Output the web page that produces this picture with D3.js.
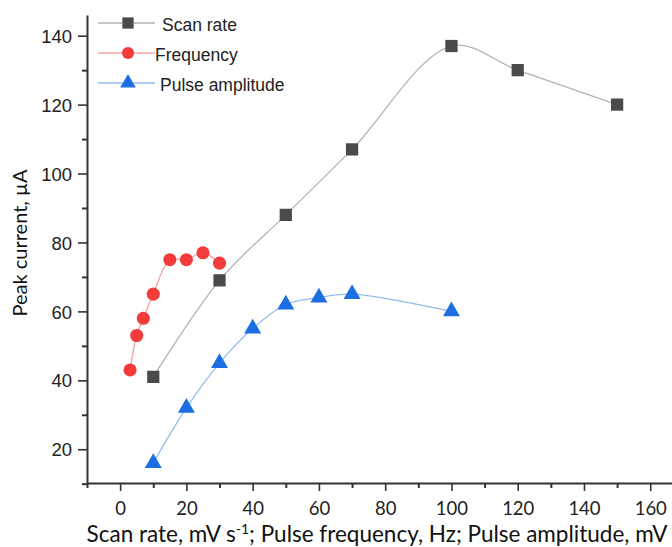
<!DOCTYPE html>
<html>
<head>
<meta charset="utf-8">
<script src="https://cdn.jsdelivr.net/npm/d3@7"></script>
<style>
  body { margin: 0; background: #fff; }
  svg { display: block; }
  .axis path, .axis line { stroke: #333; }
</style>
</head>
<body>
<script>
const scanX = [10, 30, 50, 70, 100, 120, 150];
const scanY = [41, 69, 88, 107, 137, 130, 120];
const freqX = [3, 5, 7, 10, 15, 20, 25, 30];
const freqY = [43, 53, 58, 65, 75, 75, 77, 74];
const ampX = [10, 20, 30, 40, 50, 60, 70, 100];
const ampY = [16, 32, 45, 55, 62, 64, 65, 60];
const seriesNames = ['Scan rate', 'Frequency', 'Pulse amplitude'];
const xTicks = [0, 20, 40, 60, 80, 100, 120, 140, 160];
const yTicks = [20, 40, 60, 80, 100, 120, 140];

const W = 672, H = 547;

const svg = d3.select('body').append('svg')
  .attr('width', W)
  .attr('height', H);

const x = d3.scaleLinear().domain([-10, 170]).range([87, 120 + 170 * 3.314]);
const y = d3.scaleLinear().domain([10.2, 146]).range([483, 15]);

const series = [
  { name: seriesNames[0], xs: scanX, ys: scanY, line: '#b3b3b3', fill: '#4a4a4a', shape: d3.symbolSquare, size: 150 },
  { name: seriesNames[1], xs: freqX, ys: freqY, line: '#f7a3a3', fill: '#f23b3b', shape: d3.symbolCircle, size: 135 },
  { name: seriesNames[2], xs: ampX, ys: ampY, line: '#94bcef', fill: '#1c6fe3', shape: d3.symbolTriangle, size: 125 }
];

// minor ticks
const xMinor = d3.range(-10, 171, 10).filter(v => v % 20 !== 0);
const yMinor = d3.range(10, 146, 10).filter(v => v % 20 !== 0);

svg.append('g')
  .attr('class', 'axis')
  .attr('transform', `translate(0, ${y.range()[0]})`)
  .call(d3.axisBottom(x).tickValues(xMinor).tickSize(5).tickFormat(''))
  .call(g => g.select('.domain').remove())
  .selectAll('line').attr('stroke-width', 2);

svg.append('g')
  .attr('class', 'axis')
  .attr('transform', `translate(${x.range()[0]}, 0)`)
  .call(d3.axisLeft(y).tickValues(yMinor).tickSize(5).tickFormat(''))
  .call(g => g.select('.domain').remove())
  .selectAll('line').attr('stroke-width', 2);

const xAxis = svg.append('g')
  .attr('class', 'axis')
  .attr('transform', `translate(0, ${y.range()[0]})`)
  .call(d3.axisBottom(x).tickValues(xTicks).tickSize(8).tickSizeOuter(0).tickPadding(11));
xAxis.select('.domain').attr('stroke-width', 2);
xAxis.selectAll('line').attr('stroke-width', 1.6);
xAxis.selectAll('.tick text')
  .style('font-family', 'Lato, "Open Sans", sans-serif')
  .style('font-size', '18.5px')
  .attr('fill', '#222');

const yAxis = svg.append('g')
  .attr('class', 'axis')
  .attr('transform', `translate(${x.range()[0]}, 0)`)
  .call(d3.axisLeft(y).tickValues(yTicks).tickSize(9).tickSizeOuter(0).tickPadding(6));
yAxis.select('.domain').attr('stroke-width', 2);
yAxis.selectAll('line').attr('stroke-width', 1.6);
yAxis.selectAll('.tick text')
  .attr('dy', '0.36em')
  .style('font-family', '"Liberation Sans", Arial, sans-serif')
  .style('font-size', '18.5px')
  .attr('fill', '#222');

const line = d3.line()
  .x(d => x(d[0]))
  .y(d => y(d[1]))
  .curve(d3.curveCatmullRom.alpha(0.5));

series.forEach(s => {
  const pts = s.xs.map((v, i) => [v, s.ys[i]]);
  svg.append('path')
    .attr('d', line(pts))
    .attr('fill', 'none')
    .attr('stroke', s.line)
    .attr('stroke-width', 1.3);
  svg.selectAll(null)
    .data(pts)
    .enter().append('path')
    .attr('transform', d => `translate(${x(d[0])}, ${y(d[1])})`)
    .attr('d', d3.symbol().type(s.shape).size(s.size))
    .attr('fill', s.fill);
});

// legend
const legendY = [23, 53, 83];
const legendTextX = [162, 155, 160];
series.forEach((s, i) => {
  const g = svg.append('g').attr('transform', `translate(0, ${legendY[i]})`);
  g.append('line')
    .attr('x1', 98).attr('x2', 155)
    .attr('stroke', s.line).attr('stroke-width', 1.3);
  g.append('path')
    .attr('transform', 'translate(128, 0)')
    .attr('d', d3.symbol().type(s.shape).size(s.size * 0.85))
    .attr('fill', s.fill);
  g.append('text')
    .attr('x', legendTextX[i])
    .attr('y', 2)
    .attr('dy', '0.36em')
    .style('font-family', '"Liberation Sans", Arial, sans-serif')
    .style('font-size', '17.5px')
    .attr('fill', '#222')
    .text(s.name);
});

// axis titles
const xTitle = svg.append('text')
  .attr('x', 377)
  .attr('y', 542)
  .attr('text-anchor', 'middle')
  .style('font-family', 'Lato, "Open Sans", sans-serif')
  .style('font-size', '22.5px')
  .attr('fill', '#111');
xTitle.append('tspan').text('Scan rate, mV s');
xTitle.append('tspan').attr('dy', -8).style('font-size', '14px').text('-1');
xTitle.append('tspan').attr('dy', 8).text('; Pulse frequency, Hz; Pulse amplitude, mV');

svg.append('text')
  .attr('transform', 'translate(27, 243) rotate(-90)')
  .attr('text-anchor', 'middle')
  .style('font-family', 'Lato, "Open Sans", sans-serif')
  .style('font-size', '20px')
  .attr('fill', '#111')
  .text('Peak current, µA');
</script>
</body>
</html>
